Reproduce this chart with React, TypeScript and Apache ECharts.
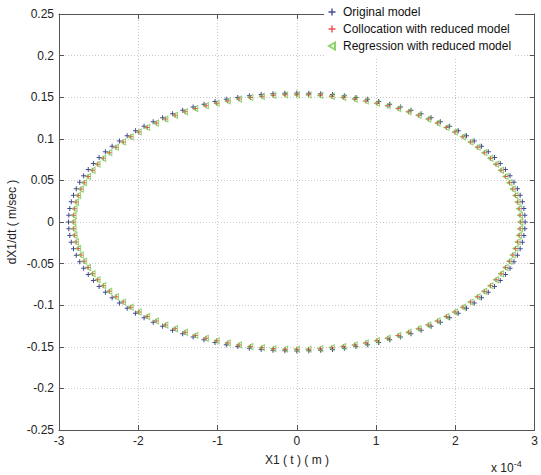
import React, { useEffect, useRef } from "react";
import * as echarts from "echarts";

// x values in units of 1e-4 m, y values in m/sec
const originalX = [
  2.88, 2.876, 2.864, 2.845, 2.817, 2.782, 2.739, 2.689, 2.631, 2.566, 2.494, 2.415, 2.33, 2.238, 2.14, 2.036, 1.927, 1.812, 1.693, 1.568, 1.44, 1.308, 1.171, 1.032, 0.89, 0.745, 0.599, 0.45, 0.301, 0.151,
  0, -0.151, -0.301, -0.45, -0.599, -0.745, -0.89, -1.032, -1.171, -1.308, -1.44, -1.568, -1.693, -1.812, -1.927, -2.036, -2.14, -2.238, -2.33, -2.415, -2.494, -2.566, -2.631, -2.689, -2.739, -2.782, -2.817, -2.845, -2.864, -2.876,
  -2.88, -2.876, -2.864, -2.845, -2.817, -2.782, -2.739, -2.689, -2.631, -2.566, -2.494, -2.415, -2.33, -2.238, -2.14, -2.036, -1.927, -1.812, -1.693, -1.568, -1.44, -1.308, -1.171, -1.032, -0.89, -0.745, -0.599, -0.45, -0.301, -0.151,
  0, 0.151, 0.301, 0.45, 0.599, 0.745, 0.89, 1.032, 1.171, 1.308, 1.44, 1.568, 1.693, 1.812, 1.927, 2.036, 2.14, 2.238, 2.33, 2.415, 2.494, 2.566, 2.631, 2.689, 2.739, 2.782, 2.817, 2.845, 2.864, 2.876,
];
const originalY = [
  0, 0.0081, 0.0162, 0.0242, 0.0322, 0.0401, 0.0479, 0.0556, 0.063, 0.0704, 0.0775, 0.0844, 0.0911, 0.0975, 0.1037, 0.1096, 0.1152, 0.1205, 0.1254, 0.13, 0.1342, 0.1381, 0.1416, 0.1447, 0.1474, 0.1497, 0.1516, 0.1531, 0.1541, 0.1548,
  0.155, 0.1548, 0.1541, 0.1531, 0.1516, 0.1497, 0.1474, 0.1447, 0.1416, 0.1381, 0.1342, 0.13, 0.1254, 0.1205, 0.1152, 0.1096, 0.1037, 0.0975, 0.0911, 0.0844, 0.0775, 0.0704, 0.063, 0.0556, 0.0479, 0.0401, 0.0322, 0.0242, 0.0162, 0.0081,
  0, -0.0081, -0.0162, -0.0242, -0.0322, -0.0401, -0.0479, -0.0556, -0.063, -0.0704, -0.0775, -0.0844, -0.0911, -0.0975, -0.1037, -0.1096, -0.1152, -0.1205, -0.1254, -0.13, -0.1342, -0.1381, -0.1416, -0.1447, -0.1474, -0.1497, -0.1516, -0.1531, -0.1541, -0.1548,
  -0.155, -0.1548, -0.1541, -0.1531, -0.1516, -0.1497, -0.1474, -0.1447, -0.1416, -0.1381, -0.1342, -0.13, -0.1254, -0.1205, -0.1152, -0.1096, -0.1037, -0.0975, -0.0911, -0.0844, -0.0775, -0.0704, -0.063, -0.0556, -0.0479, -0.0401, -0.0322, -0.0242, -0.0162, -0.0081,
];
const reducedX = [
  2.82, 2.816, 2.804, 2.785, 2.758, 2.724, 2.682, 2.633, 2.576, 2.513, 2.442, 2.365, 2.281, 2.191, 2.096, 1.994, 1.887, 1.775, 1.658, 1.536, 1.41, 1.28, 1.147, 1.011, 0.871, 0.73, 0.586, 0.441, 0.295, 0.147,
  0, -0.147, -0.295, -0.441, -0.586, -0.73, -0.871, -1.011, -1.147, -1.28, -1.41, -1.536, -1.658, -1.775, -1.887, -1.994, -2.096, -2.191, -2.281, -2.365, -2.442, -2.513, -2.576, -2.633, -2.682, -2.724, -2.758, -2.785, -2.804, -2.816,
  -2.82, -2.816, -2.804, -2.785, -2.758, -2.724, -2.682, -2.633, -2.576, -2.513, -2.442, -2.365, -2.281, -2.191, -2.096, -1.994, -1.887, -1.775, -1.658, -1.536, -1.41, -1.28, -1.147, -1.011, -0.871, -0.73, -0.586, -0.441, -0.295, -0.147,
  0, 0.147, 0.295, 0.441, 0.586, 0.73, 0.871, 1.011, 1.147, 1.28, 1.41, 1.536, 1.658, 1.775, 1.887, 1.994, 2.096, 2.191, 2.281, 2.365, 2.442, 2.513, 2.576, 2.633, 2.682, 2.724, 2.758, 2.785, 2.804, 2.816,
];
const reducedY = [
  0, 0.008, 0.016, 0.0239, 0.0318, 0.0396, 0.0473, 0.0548, 0.0622, 0.0695, 0.0765, 0.0833, 0.0899, 0.0963, 0.1024, 0.1082, 0.1137, 0.1189, 0.1238, 0.1283, 0.1325, 0.1363, 0.1398, 0.1428, 0.1455, 0.1478, 0.1497, 0.1511, 0.1522, 0.1528,
  0.153, 0.1528, 0.1522, 0.1511, 0.1497, 0.1478, 0.1455, 0.1428, 0.1398, 0.1363, 0.1325, 0.1283, 0.1238, 0.1189, 0.1137, 0.1082, 0.1024, 0.0963, 0.0899, 0.0833, 0.0765, 0.0695, 0.0622, 0.0548, 0.0473, 0.0396, 0.0318, 0.0239, 0.016, 0.008,
  0, -0.008, -0.016, -0.0239, -0.0318, -0.0396, -0.0473, -0.0548, -0.0622, -0.0695, -0.0765, -0.0833, -0.0899, -0.0963, -0.1024, -0.1082, -0.1137, -0.1189, -0.1238, -0.1283, -0.1325, -0.1363, -0.1398, -0.1428, -0.1455, -0.1478, -0.1497, -0.1511, -0.1522, -0.1528,
  -0.153, -0.1528, -0.1522, -0.1511, -0.1497, -0.1478, -0.1455, -0.1428, -0.1398, -0.1363, -0.1325, -0.1283, -0.1238, -0.1189, -0.1137, -0.1082, -0.1024, -0.0963, -0.0899, -0.0833, -0.0765, -0.0695, -0.0622, -0.0548, -0.0473, -0.0396, -0.0318, -0.0239, -0.016, -0.008,
];
const seriesNames = [
  "Original model",
  "Collocation with reduced model",
  "Regression with reduced model",
];
const xTicks = [-3, 3, 1];
const yTicks = [-0.25, 0.25, 0.05];

const PLUS = "path://M2,0H3V2H5V3H3V5H2V3H0V2H2Z";
const LEFT_TRI = "path://M6,0L0,3.5L6,7Z";
const FONT = "Liberation Sans";

function pairs(xs: number[], ys: number[]) {
  return xs.map((x, i) => [x, ys[i]]);
}

export default function App() {
  const ref = useRef<HTMLDivElement>(null);
  useEffect(() => {
    if (!ref.current) return;
    const chart = echarts.init(ref.current, undefined, { renderer: "svg" });
    const axisLine = { show: true, onZero: false, lineStyle: { color: "#555", width: 1 } };
    const tick = { show: true, inside: true, length: 5, lineStyle: { color: "#555" } };
    const split = { show: true, lineStyle: { color: "#c8c8c8", type: [1, 2] as any, width: 1 } };
    chart.setOption({
      animation: false,
      backgroundColor: "#fff",
      textStyle: { fontFamily: FONT },
      grid: { left: 59, right: 6, top: 14, bottom: 45, show: false },
      legend: {
        orient: "vertical",
        left: 324,
        top: 2,
        itemWidth: 12,
        itemHeight: 7,
        itemGap: 3,
        padding: [3, 4, 6, 4],
        backgroundColor: "#fff",
        textStyle: { fontFamily: FONT, fontSize: 12, color: "#111", lineHeight: 14 },
        data: seriesNames,
      },
      xAxis: [
        {
          type: "value",
          min: xTicks[0],
          max: xTicks[1],
          interval: xTicks[2],
          position: "bottom",
          axisLine,
          axisTick: tick,
          splitLine: split,
          axisLabel: { color: "#222", fontSize: 12, fontFamily: FONT, margin: 5 },
        },
        {
          type: "value",
          min: xTicks[0],
          max: xTicks[1],
          interval: xTicks[2],
          position: "top",
          axisLine,
          axisTick: tick,
          splitLine: { show: false },
          axisLabel: { show: false },
        },
      ],
      yAxis: [
        {
          type: "value",
          min: yTicks[0],
          max: yTicks[1],
          interval: yTicks[2],
          position: "left",
          axisLine,
          axisTick: tick,
          splitLine: split,
          axisLabel: { color: "#222", fontSize: 12, fontFamily: FONT, margin: 5 },
        },
        {
          type: "value",
          min: yTicks[0],
          max: yTicks[1],
          interval: yTicks[2],
          position: "right",
          axisLine,
          axisTick: tick,
          splitLine: { show: false },
          axisLabel: { show: false },
        },
      ],
      series: [
        {
          name: seriesNames[0],
          type: "scatter",
          data: pairs(originalX, originalY),
          symbol: PLUS,
          symbolSize: 5,
          itemStyle: { color: "#181c80" },
        },
        {
          name: seriesNames[1],
          type: "scatter",
          data: pairs(reducedX, reducedY),
          symbol: PLUS,
          symbolSize: 5,
          itemStyle: { color: "#e8232a" },
        },
        {
          name: seriesNames[2],
          type: "scatter",
          data: pairs(reducedX, reducedY),
          symbol: LEFT_TRI,
          symbolSize: [5, 6],
          itemStyle: { color: "rgba(0,0,0,0)", borderColor: "#72c84a", borderWidth: 1 },
        },
      ],
      graphic: [
        {
          type: "text",
          x: 12,
          y: 222,
          rotation: Math.PI / 2,
          style: {
            text: "dX1/dt ( m/sec )",
            fontFamily: FONT,
            fontSize: 12,
            fill: "#222",
            align: "center",
            verticalAlign: "middle",
          },
        },
        {
          type: "text",
          x: 297,
          y: 460,
          style: {
            text: "X1 ( t ) ( m )",
            fontFamily: FONT,
            fontSize: 12,
            fill: "#222",
            align: "center",
            verticalAlign: "middle",
          },
        },
        {
          type: "text",
          x: 491,
          y: 459,
          style: {
            text: "x 10{s|-4}",
            fontFamily: FONT,
            fontSize: 12,
            fill: "#222",
            verticalAlign: "top",
            rich: { s: { fontSize: 9, fontFamily: FONT, fill: "#222", padding: [0, 0, 9, 0] } },
          },
        },
      ],
    });
    return () => chart.dispose();
  }, []);
  return <div ref={ref} style={{ width: 541, height: 475, position: "absolute", left: 0, top: 0 }} />;
}
